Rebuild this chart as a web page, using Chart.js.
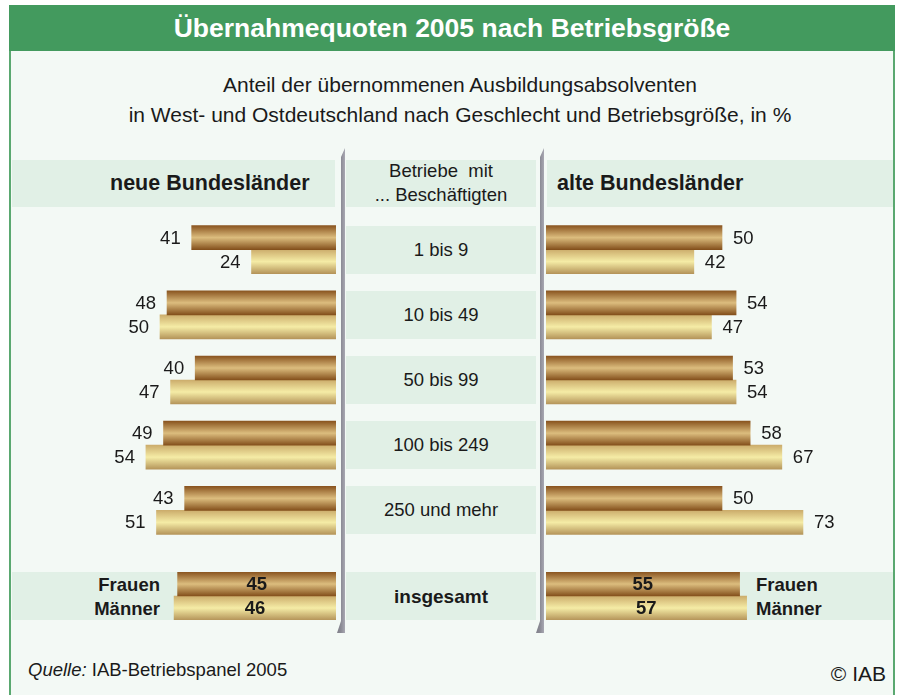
<!DOCTYPE html>
<html>
<head>
<meta charset="utf-8">
<script src="https://cdn.jsdelivr.net/npm/chart.js@4.4.1/dist/chart.umd.min.js"></script>
<style>
  html, body { margin: 0; padding: 0; background: #fff; }
  body { font-family: "Liberation Sans", Arial, sans-serif; color: #1a1a1a; }
  #page { position: relative; width: 898px; height: 695px; overflow: hidden; }
  .abs { position: absolute; white-space: nowrap; }
  #frame { left: 9px; top: 5px; width: 882px; height: 700px; background: #f3f9f5;
           border-left: 2px solid #5aa870; border-right: 2px solid #5aa870; }
  #title { left: 0px; top: 5px; width: 886px; height: 46px; line-height: 46px; background: #439a5e;
           color: #fff; font-weight: bold; font-size: 26.5px; text-align: center; border-left: 9px solid #fff; }
  #subtitle { left: 11px; top: 70px; width: 898px; text-align: center; font-size: 21px; line-height: 30px; }
  .band { background: #e1f0e6; }
  .mid { left: 346px; width: 190px; text-align: center; }
  .pillar { width: 8px; background: linear-gradient(to right, #80808a, #8a8a94 50%, #a8a8b2 100%); }
  canvas { position: absolute; }
</style>
</head>
<body>
<div id="page">
  <div id="frame" class="abs"></div>
  <div id="title" class="abs">Übernahmequoten 2005 nach Betriebsgröße</div>
  <div id="subtitle" class="abs">Anteil der übernommenen Ausbildungsabsolventen<br>in West- und Ostdeutschland nach Geschlecht und Betriebsgröße, in %</div>
  <div id="deco"></div>
  <canvas id="leftMain" width="324" height="326" style="left:12px;top:217px"></canvas>
  <canvas id="rightMain" width="347" height="326" style="left:546px;top:217px"></canvas>
  <canvas id="leftTotal" width="324" height="48" style="left:12px;top:572px"></canvas>
  <canvas id="rightTotal" width="347" height="48" style="left:546px;top:572px"></canvas>
</div>
<script>
// Daten
const categories = ['1 bis 9', '10 bis 49', '50 bis 99', '100 bis 249', '250 und mehr'];
const seriesNames = ['Frauen', 'Männer'];
const neuFrauen = [41, 48, 40, 49, 43];
const neuMaenner = [24, 50, 47, 54, 51];
const altFrauen = [50, 54, 53, 58, 50];
const altMaenner = [42, 47, 54, 67, 73];
const totalLabel = 'insgesamt';
const neuTotal = [45, 46];   // Frauen, Männer
const altTotal = [55, 57];

const BAR = 24;
const PX_PER_UNIT = 3.52;
const LABEL_FONT = '18.5px "Liberation Sans", Arial, sans-serif';

// Dekoration (Bänder, Überschriften, Säulen)
const deco = document.getElementById('deco');
function addDiv(cls, style, html) {
  const d = document.createElement('div');
  d.className = 'abs ' + cls;
  d.style.cssText = style;
  if (html) d.innerHTML = html;
  deco.appendChild(d);
  return d;
}
addDiv('band', 'left:12px;top:160px;width:323px;height:47px');
addDiv('band', 'left:346px;top:160px;width:190px;height:47px');
addDiv('band', 'left:547px;top:160px;width:346px;height:47px');
addDiv('', 'left:110px;top:160px;height:47px;line-height:47px;font-weight:bold;font-size:21.5px', 'neue Bundesländer');
addDiv('', 'left:557px;top:160px;height:47px;line-height:47px;font-weight:bold;font-size:21.5px', 'alte Bundesländer');
addDiv('mid', 'top:159px;font-size:18.5px;line-height:24px', 'Betriebe&nbsp; mit<br>... Beschäftigten');

const rowCenter = i => 217 + (i + 0.5) * 326 / categories.length;
categories.forEach((c, i) => {
  const cy = rowCenter(i);
  addDiv('band mid', `top:${cy - 24}px;height:48px;line-height:48px;font-size:18.5px`, c);
});
addDiv('band', 'left:12px;top:572px;width:324px;height:48px');
addDiv('band mid', 'top:572px;height:48px;line-height:50px;font-size:19px;font-weight:bold', totalLabel);
addDiv('band', 'left:546px;top:572px;width:347px;height:48px');
seriesNames.forEach((n, k) => {
  addDiv('', `left:60px;width:100px;text-align:right;top:${573 + k * 24}px;line-height:24px;font-weight:bold;font-size:18.5px`, n);
  addDiv('', `left:756px;top:${573 + k * 24}px;line-height:24px;font-weight:bold;font-size:18.5px`, n);
});
const pillarClip = 'clip-path:polygon(100% 0,100% 100%,0 100%,4px calc(100% - 12px),4px 9px)';
addDiv('pillar', 'left:337px;top:148px;height:485px;' + pillarClip);
addDiv('pillar', 'left:536px;top:148px;height:485px;' + pillarClip);
addDiv('', 'left:28px;top:659px;font-size:18.5px', '<i>Quelle:</i> IAB-Betriebspanel 2005');
addDiv('', 'left:786px;width:100px;text-align:right;top:662px;font-size:21px', '© IAB');

// Farbverläufe
const darkStops = ['#8a5520', '#dcbd7e', '#84501c'];
const lightStops = ['#ccad6c', '#f5eca6', '#b5955a'];
function barFill(ctx) {
  const stops = ctx.datasetIndex === 0 ? darkStops : lightStops;
  const chart = ctx.chart;
  const y = chart.scales && chart.scales.y;
  if (!y || ctx.dataIndex === undefined) return stops[1];
  const c = y.getPixelForValue(ctx.dataIndex);
  if (!isFinite(c)) return stops[1];
  const top = c - BAR + ctx.datasetIndex * BAR;
  const g = chart.ctx.createLinearGradient(0, top, 0, top + BAR);
  g.addColorStop(0, stops[0]);
  g.addColorStop(0.5, stops[1]);
  g.addColorStop(1, stops[2]);
  return g;
}

// Wertbeschriftungen
const valueLabels = {
  id: 'valueLabels',
  afterDatasetsDraw(chart, args, opts) {
    const c = chart.ctx;
    c.save();
    c.font = opts.font;
    c.fillStyle = '#1a1a1a';
    c.textBaseline = 'middle';
    chart.data.datasets.forEach((ds, di) => {
      chart.getDatasetMeta(di).data.forEach((el, i) => {
        const v = ds.data[i];
        if (opts.inside) {
          c.textAlign = 'center';
          c.fillText(v, (el.x + el.base) / 2, el.y + 1);
        } else if (opts.side === 'left') {
          c.textAlign = 'right';
          c.fillText(v, el.x - 11, el.y + 1);
        } else {
          c.textAlign = 'left';
          c.fillText(v, el.x + 11, el.y + 1);
        }
      });
    });
    c.restore();
  }
};

function makeChart(id, labels, a, b, side, inside) {
  const canvas = document.getElementById(id);
  const chart = new Chart(canvas, {
    type: 'bar',
    data: {
      labels: labels,
      datasets: [
        { label: seriesNames[0], data: a, backgroundColor: barFill, barThickness: BAR, borderWidth: 0 },
        { label: seriesNames[1], data: b, backgroundColor: barFill, barThickness: BAR, borderWidth: 0 }
      ]
    },
    options: {
      indexAxis: 'y',
      responsive: false,
      animation: false,
      layout: { padding: 0 },
      scales: {
        x: { display: false, min: 0, max: canvas.width / PX_PER_UNIT, reverse: side === 'left' },
        y: { display: false }
      },
      plugins: {
        legend: { display: false },
        tooltip: { enabled: false },
        valueLabels: {
          side: side,
          inside: inside,
          font: (inside ? 'bold ' : '') + LABEL_FONT
        }
      }
    },
    plugins: [valueLabels]
  });
  chart.update();  // Verläufe nach dem Layout neu berechnen
  return chart;
}

makeChart('leftMain', categories, neuFrauen, neuMaenner, 'left', false);
makeChart('rightMain', categories, altFrauen, altMaenner, 'right', false);
makeChart('leftTotal', [totalLabel], [neuTotal[0]], [neuTotal[1]], 'left', true);
makeChart('rightTotal', [totalLabel], [altTotal[0]], [altTotal[1]], 'right', true);
</script>
</body>
</html>
